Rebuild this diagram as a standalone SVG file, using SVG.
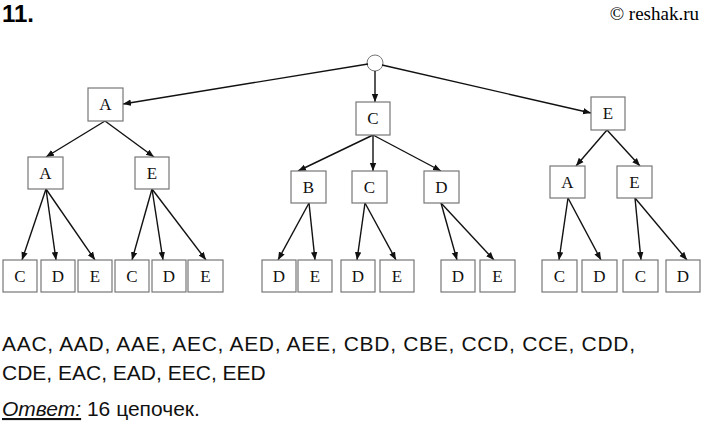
<svg xmlns="http://www.w3.org/2000/svg" width="701" height="429" viewBox="0 0 701 429">
<style>
.b{fill:#fff;stroke:#777;stroke-width:1.2}
.t{font-family:"Liberation Serif",serif;font-size:17px;text-anchor:middle;fill:#111}
.e{stroke:#111;stroke-width:1.4;fill:none;marker-end:url(#ar)}
.s{font-family:"Liberation Sans",sans-serif;font-size:21px;fill:#111}
</style>
<defs><marker id="ar" viewBox="0 0 10 10" refX="10" refY="5" markerWidth="8" markerHeight="8" orient="auto" markerUnits="userSpaceOnUse"><path d="M0,1 L10,5 L0,9 z" fill="#111"/></marker></defs>
<rect width="701" height="429" fill="#fff"/>
<text x="2" y="22" style="font-family:'Liberation Sans',sans-serif;font-size:24px;font-weight:bold">11.</text>
<text x="699" y="20" text-anchor="end" style="font-family:'Liberation Serif',serif;font-size:19px">© reshak.ru</text>
<g id="root"><circle cx="375" cy="63" r="8" fill="none" stroke="#777"/></g>
<g id="connectors">
<path class="e" d="M368,64 L123,104"/>
<path class="e" d="M375,71 L375,102"/>
<path class="e" d="M382,65 L591,113"/>
<path class="e" d="M105,121 L46,157"/>
<path class="e" d="M105,121 L154,157"/>
<path class="e" d="M46,189 L22,260"/>
<path class="e" d="M46,189 L56,260"/>
<path class="e" d="M46,189 L95,260"/>
<path class="e" d="M152,189 L132,260"/>
<path class="e" d="M152,189 L163,260"/>
<path class="e" d="M152,189 L206,260"/>
<path class="e" d="M373,135 L298,171"/>
<path class="e" d="M373,135 L373,171"/>
<path class="e" d="M373,135 L441,171"/>
<path class="e" d="M309,203 L278,260"/>
<path class="e" d="M309,203 L315,260"/>
<path class="e" d="M365,203 L357,260"/>
<path class="e" d="M365,203 L396,260"/>
<path class="e" d="M441,203 L457,260"/>
<path class="e" d="M441,203 L494,260"/>
<path class="e" d="M607,130 L576,166"/>
<path class="e" d="M607,130 L640,166"/>
<path class="e" d="M568,198 L559,260"/>
<path class="e" d="M568,198 L601,260"/>
<path class="e" d="M635,198 L641,260"/>
<path class="e" d="M635,198 L687,260"/>
</g>
<g id="n1"><rect class="b" x="88" y="88" width="35" height="33"/><text class="t" x="105.5" y="110">A</text></g>
<g id="n2"><rect class="b" x="356" y="102" width="34" height="33"/><text class="t" x="373" y="124">C</text></g>
<g id="n3"><rect class="b" x="591" y="97" width="34" height="33"/><text class="t" x="608" y="119">E</text></g>
<g id="n4"><rect class="b" x="28" y="157" width="35" height="32"/><text class="t" x="45.5" y="179">A</text></g>
<g id="n5"><rect class="b" x="135" y="157" width="34" height="32"/><text class="t" x="152" y="179">E</text></g>
<g id="n6"><rect class="b" x="291" y="171" width="35" height="32"/><text class="t" x="308.5" y="193">B</text></g>
<g id="n7"><rect class="b" x="352" y="171" width="35" height="32"/><text class="t" x="369.5" y="193">C</text></g>
<g id="n8"><rect class="b" x="424" y="171" width="35" height="32"/><text class="t" x="441.5" y="193">D</text></g>
<g id="n9"><rect class="b" x="550" y="166" width="35" height="32"/><text class="t" x="567.5" y="188">A</text></g>
<g id="n10"><rect class="b" x="617" y="166" width="35" height="32"/><text class="t" x="634.5" y="188">E</text></g>
<g id="l1"><rect class="b" x="3" y="260" width="34" height="32"/><text class="t" x="20" y="282">C</text></g>
<g id="l2"><rect class="b" x="41" y="260" width="34" height="32"/><text class="t" x="58" y="282">D</text></g>
<g id="l3"><rect class="b" x="78" y="260" width="34" height="32"/><text class="t" x="95" y="282">E</text></g>
<g id="l4"><rect class="b" x="115" y="260" width="34" height="32"/><text class="t" x="132" y="282">C</text></g>
<g id="l5"><rect class="b" x="152" y="260" width="34" height="32"/><text class="t" x="169" y="282">D</text></g>
<g id="l6"><rect class="b" x="188" y="260" width="35" height="32"/><text class="t" x="205.5" y="282">E</text></g>
<g id="l7"><rect class="b" x="262" y="260" width="34" height="32"/><text class="t" x="279" y="282">D</text></g>
<g id="l8"><rect class="b" x="298" y="260" width="34" height="32"/><text class="t" x="315" y="282">E</text></g>
<g id="l9"><rect class="b" x="341" y="260" width="34" height="32"/><text class="t" x="358" y="282">D</text></g>
<g id="l10"><rect class="b" x="380" y="260" width="34" height="32"/><text class="t" x="397" y="282">E</text></g>
<g id="l11"><rect class="b" x="441" y="260" width="34" height="32"/><text class="t" x="458" y="282">D</text></g>
<g id="l12"><rect class="b" x="480" y="260" width="35" height="32"/><text class="t" x="497.5" y="282">E</text></g>
<g id="l13"><rect class="b" x="542" y="260" width="35" height="32"/><text class="t" x="559.5" y="282">C</text></g>
<g id="l14"><rect class="b" x="582" y="260" width="35" height="32"/><text class="t" x="599.5" y="282">D</text></g>
<g id="l15"><rect class="b" x="623" y="260" width="35" height="32"/><text class="t" x="640.5" y="282">C</text></g>
<g id="l16"><rect class="b" x="666" y="260" width="34" height="32"/><text class="t" x="683" y="282">D</text></g>
<text class="s" x="2" y="351" textLength="633" lengthAdjust="spacing">AAC, AAD, AAE, AEC, AED, AEE, CBD, CBE, CCD, CCE, CDD,</text>
<text class="s" x="2" y="380">CDE, EAC, EAD, EEC, EED</text>
<text class="s" x="2" y="416"><tspan font-style="italic" text-decoration="underline">Ответ:</tspan> 16 цепочек.</text>
</svg>
